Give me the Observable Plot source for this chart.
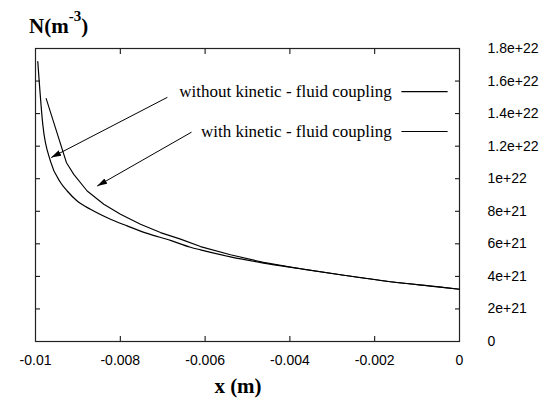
<!DOCTYPE html>
<html>
<head>
<meta charset="utf-8">
<script src="https://cdn.jsdelivr.net/npm/d3@7"></script>
<script src="https://cdn.jsdelivr.net/npm/@observablehq/plot@0.6"></script>
<style>
  html, body { margin: 0; padding: 0; background: #fff; }
</style>
</head>
<body>
<div id="chart"></div>
<script>
// Series: without kinetic-fluid coupling
const xWithout = [-0.009946, -0.009828, -0.009646, -0.00941, -0.009252, -0.009017, -0.008703, -0.008231, -0.007837, -0.007366, -0.006816, -0.006344, -0.006108, -0.005401, -0.004623, -0.00375, -0.002807, -0.001627, -0.000448, 0];
const nWithout = [1.72e22, 1.333e22, 1.107e22, 9.77e21, 9.245e21, 8.63e21, 8.12e21, 7.51e21, 7.10e21, 6.64e21, 6.21e21, 5.79e21, 5.63e21, 5.20e21, 4.82e21, 4.47e21, 4.10e21, 3.67e21, 3.34e21, 3.21e21];
// Series: with kinetic-fluid coupling
const xWith = [-0.009748, -0.009269, -0.009097, -0.008781, -0.008389, -0.007995, -0.007524, -0.007052, -0.00658, -0.006108, -0.005401, -0.004623, -0.00375, -0.002807, -0.001627, -0.000448, 0];
const nWith = [1.492e22, 1.098e22, 1.0267e22, 9.245e21, 8.43e21, 7.82e21, 7.20e21, 6.69e21, 6.29e21, 5.83e21, 5.33e21, 4.86e21, 4.47e21, 4.10e21, 3.67e21, 3.34e21, 3.21e21];

// Ticks
const xTicks = [-0.01, -0.008, -0.006, -0.004, -0.002, 0];
const xTickLabels = ["-0.01", "-0.008", "-0.006", "-0.004", "-0.002", "0"];
const yTicks = [0, 2e21, 4e21, 6e21, 8e21, 1e22, 1.2e22, 1.4e22, 1.6e22, 1.8e22];
const yTickLabels = ["0", "2e+21", "4e+21", "6e+21", "8e+21", "1e+22", "1.2e+22", "1.4e+22", "1.6e+22", "1.8e+22"];

// Legend (annotation) and arrows
const legendLabels = ["without kinetic - fluid coupling", "with kinetic - fluid coupling"];
const legendTextX = [-0.0016, -0.0016];
const legendLineX1 = [-0.00137, -0.00137];
const legendLineX2 = [-0.00028, -0.00028];
const legendY = [1.535e22, 1.29e22];
const arrowTailX = [-0.00689, -0.00632];
const arrowTailY = [1.50e22, 1.286e22];
const arrowHeadX = [-0.00963, -0.008545];
const arrowHeadY = [1.13e22, 9.55e21];

const titleText = "N(m";
const titleSup = "-3";
const xLabel = "x (m)";

const seriesWithout = xWithout.map((x, i) => ({x, y: nWithout[i]}));
const seriesWith = xWith.map((x, i) => ({x, y: nWith[i]}));
const legend = legendLabels.map((label, i) => ({label, tx: legendTextX[i], x1: legendLineX1[i], x2: legendLineX2[i], y: legendY[i]}));
const arrows = arrowTailX.map((x, i) => ({x1: x, y1: arrowTailY[i], x2: arrowHeadX[i], y2: arrowHeadY[i]}));

const xFmt = d => xTickLabels[xTicks.indexOf(d)];
const yFmt = d => yTickLabels[yTicks.indexOf(d)];

const plot = Plot.plot({
  width: 542,
  height: 402,
  marginLeft: 35,
  marginRight: 83,
  marginTop: 48,
  marginBottom: 61,
  style: {fontFamily: "'Liberation Sans', Arial, sans-serif", fontSize: "14px", color: "#000", background: "#fff"},
  x: {domain: [-0.01, 0]},
  y: {domain: [0, 1.8e22]},
  marks: [
    Plot.axisX(xTicks, {anchor: "bottom", tickSize: -5, tickPadding: 19, tickFormat: xFmt, label: null, fontSize: 14}),
    Plot.axisX(xTicks, {anchor: "top", tickSize: -5, tickFormat: () => "", label: null}),
    Plot.axisY(yTicks, {anchor: "right", tickSize: -5, tickPadding: 33, tickFormat: yFmt, label: null, fontSize: 14}),
    Plot.axisY(yTicks, {anchor: "left", tickSize: -5, tickFormat: () => "", label: null}),
    Plot.frame({stroke: "#222", strokeWidth: 1.2}),
    Plot.line(seriesWithout, {x: "x", y: "y", stroke: "#000", strokeWidth: 1.2, curve: "monotone-x"}),
    Plot.line(seriesWith, {x: "x", y: "y", stroke: "#000", strokeWidth: 1.1}),
    Plot.text(legend, {x: "tx", y: "y", text: "label", textAnchor: "end", fontFamily: "'Liberation Serif', 'Times New Roman', serif", fontSize: 17, fill: "#000"}),
    Plot.link(legend, {x1: "x1", x2: "x2", y1: "y", y2: "y", stroke: "#000", strokeWidth: 1.2}),
    Plot.link(arrows, {x1: "x1", y1: "y1", x2: "x2", y2: "y2", stroke: "#000", strokeWidth: 1, className: "annot-arrows"})
  ]
});

const svg = d3.select(plot);
// arrowhead marker
const defs = svg.insert("defs", ":first-child");
defs.append("marker")
  .attr("id", "ah")
  .attr("markerUnits", "userSpaceOnUse")
  .attr("markerWidth", 12).attr("markerHeight", 8)
  .attr("refX", 10).attr("refY", 3)
  .attr("orient", "auto")
  .append("path").attr("d", "M0,0L10,3L0,6Z").attr("fill", "#000");
svg.selectAll(".annot-arrows path").attr("marker-end", "url(#ah)");

// Title with superscript
const t = svg.append("text")
  .attr("x", 29).attr("y", 33)
  .attr("text-anchor", "start")
  .attr("font-family", "'Liberation Serif', 'Times New Roman', serif")
  .attr("font-weight", "bold").attr("font-size", 21).attr("fill", "#000");
t.append("tspan").text(titleText);
t.append("tspan").attr("dy", -12).attr("font-size", 15).text(titleSup);
t.append("tspan").attr("dy", 12).text(")");

// x label
svg.append("text")
  .attr("x", 238).attr("y", 393)
  .attr("text-anchor", "middle")
  .attr("font-family", "'Liberation Serif', 'Times New Roman', serif")
  .attr("font-weight", "bold").attr("font-size", 21).attr("fill", "#000")
  .text(xLabel);

document.getElementById("chart").appendChild(plot);
</script>
</body>
</html>
